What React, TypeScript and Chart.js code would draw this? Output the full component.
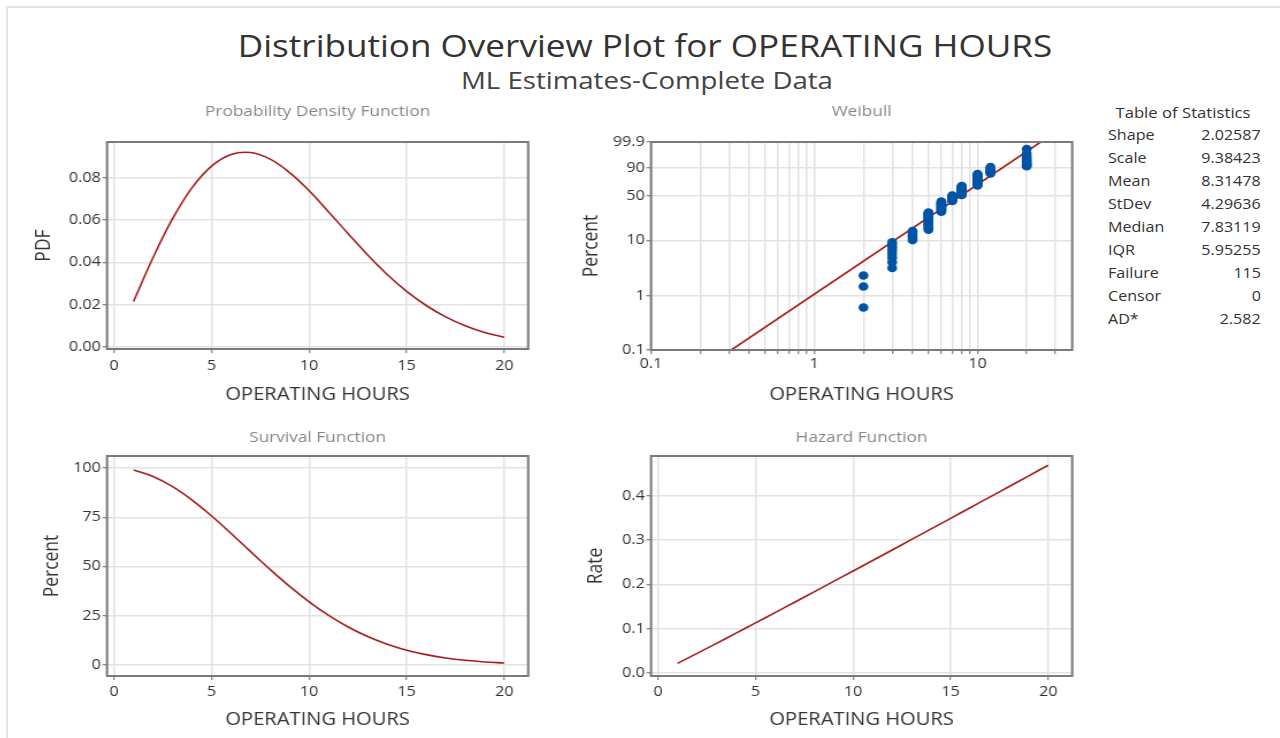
import React, { useEffect, useRef } from 'react';
import { Chart, registerables, LinearScale } from 'chart.js';

Chart.register(...registerables);

const FONT = "'Open Sans', 'Noto Sans', sans-serif";

// ---------- data ----------
const HOURS = [1, 2, 3, 4, 5, 6, 7, 8, 9, 10, 11, 12, 13, 14, 15, 16, 17, 18, 19, 20];
const PDF_VALUES = [0.0215, 0.0423, 0.0607, 0.0754, 0.0856, 0.0911, 0.092, 0.0889, 0.0825, 0.0739, 0.0639, 0.0536, 0.0435, 0.0343, 0.0263, 0.0196, 0.0142, 0.01, 0.0068, 0.0046];
const SURVIVAL_PERCENT = [98.93, 95.73, 90.55, 83.72, 75.63, 66.76, 57.57, 48.49, 39.9, 32.06, 25.17, 19.29, 14.43, 10.55, 7.53, 5.25, 3.57, 2.37, 1.54, 0.97];
const HAZARD_RATE = [0.0217, 0.0442, 0.067, 0.09, 0.1132, 0.1364, 0.1598, 0.1833, 0.2068, 0.2304, 0.2541, 0.2778, 0.3016, 0.3254, 0.3493, 0.3732, 0.3971, 0.4211, 0.4451, 0.4692];

const HOUR_TICKS = [0, 5, 10, 15, 20];
const PDF_TICKS = [0, 0.02, 0.04, 0.06, 0.08];
const SURVIVAL_TICKS = [0, 25, 50, 75, 100];
const HAZARD_TICKS = [0, 0.1, 0.2, 0.3, 0.4];

const FAILURE_HOURS = [2, 3, 4, 5, 6, 7, 8, 10, 12, 20];
const FAILURE_COUNTS = [3, 8, 6, 17, 15, 10, 17, 20, 9, 10];
const FIT_HOURS = [0.3102, 24.36];
const FIT_PERCENT = [0.1, 99.9];
const PERCENT_TICKS = [0.1, 1, 10, 50, 90, 99.9];
const LOG_LABELS = [0.1, 1, 10];
const LOG_GRID = [0.1, 0.2, 0.3, 0.4, 0.5, 0.6, 0.7, 0.8, 0.9, 1, 2, 3, 4, 5, 6, 7, 8, 9, 10, 20, 30];

const STAT_NAMES = ['Shape', 'Scale', 'Mean', 'StDev', 'Median', 'IQR', 'Failure', 'Censor', 'AD*'];
const STAT_VALUES = ['2.02587', '9.38423', '8.31478', '4.29636', '7.83119', '5.95255', '115', '0', '2.582'];

// ---------- Weibull probability scale ----------
const weibullT = (p: number) => Math.log(-Math.log(1 - p / 100));

class WeibullPercentScale extends LinearScale {
  static id = 'weibullPercent';
  static defaults = {};
  buildTicks() {
    return PERCENT_TICKS.map((v) => ({ value: v }));
  }
  getPixelForValue(value: number) {
    const lo = weibullT((this as any).min);
    const hi = weibullT((this as any).max);
    return (this as any).getPixelForDecimal((weibullT(value) - lo) / (hi - lo));
  }
  getValueForPixel(pixel: number) {
    const lo = weibullT((this as any).min);
    const hi = weibullT((this as any).max);
    const w = lo + (this as any).getDecimalForPixel(pixel) * (hi - lo);
    return 100 * (1 - Math.exp(-Math.exp(w)));
  }
}
Chart.register(WeibullPercentScale as any);

// median-rank plotting positions from the failure counts
const N_FAIL = FAILURE_COUNTS.reduce((a, b) => a + b, 0);
const FAILURE_POINTS: { x: number; y: number }[] = [];
{
  let rank = 0;
  FAILURE_HOURS.forEach((h, k) => {
    for (let j = 0; j < FAILURE_COUNTS[k]; j++) {
      rank += 1;
      FAILURE_POINTS.push({ x: h, y: ((rank - 0.3) / (N_FAIL + 0.4)) * 100 });
    }
  });
}

// ---------- layout helpers ----------
const STRETCH = 1.15; // the reference is drawn wider than tall
const Y_AXIS_W = 87; // page px
const RIGHT_PAD = 12; // page px
const TITLE_SIZE = 15;
const TICK_SIZE = 14;
const AXIS_TITLE_SIZE = 17.5;
const LINE_COLOR = '#a51d1d';
const POINT_COLOR = '#0054a6';

type Geo = { L: number; T: number; R: number; B: number; titleY: number; tickY: number; xTitleY: number; yTitleX: number };

function geometry(g: Geo) {
  const left = g.L - Y_AXIS_W;
  const top = g.titleY - 14;
  const pageWidth = g.R - left + RIGHT_PAD;
  const cw = Math.round(pageWidth / STRETCH);
  const yAxisW = Y_AXIS_W / STRETCH;
  const rightPad = cw - yAxisW - (g.R - g.L) / STRETCH;
  const xAxisH = g.xTitleY + 14 - g.B;
  const height = g.B - top + xAxisH;
  const tLH = TITLE_SIZE * 1.2;
  const titlePadTop = g.titleY - top - tLH / 2;
  const titlePadBottom = g.T - top - titlePadTop - tLH;
  const aLH = AXIS_TITLE_SIZE * 1.2;
  const xTitlePadBottom = 14 - aLH / 2;
  const yTitlePadTop = (g.yTitleX - left) / STRETCH - aLH / 2;
  const tickPadX = g.tickY - g.B - 4 - (TICK_SIZE * 1.2) / 2;
  return {
    left,
    top,
    cw,
    styleWidth: cw * STRETCH,
    height,
    yAxisW,
    rightPad,
    xAxisH,
    titlePadTop,
    titlePadBottom,
    xTitlePadBottom,
    yTitlePadTop,
    tickPadX,
  };
}

const frameBox = {
  id: 'frameBox',
  afterDraw(chart: any) {
    const { ctx, chartArea: a } = chart;
    ctx.save();
    ctx.strokeStyle = '#7a7a7a';
    ctx.lineWidth = 2;
    ctx.strokeRect(a.left, a.top, a.right - a.left, a.bottom - a.top);
    ctx.restore();
  },
};

const gridOpts = { color: '#e2e2e2', lineWidth: 1.5, tickColor: '#666', tickLength: 4, tickWidth: 1, drawTicks: true };
const tickFont = { family: FONT, size: TICK_SIZE };
const axisTitleFont = { family: FONT, size: AXIS_TITLE_SIZE };

function makeOptions(geo: any, title: string, xScale: any, yScale: any, yTitle: string) {
  return {
    responsive: false,
    maintainAspectRatio: false,
    animation: false,
    events: [],
    layout: { autoPadding: false, padding: { left: 0, right: geo.rightPad, top: 0, bottom: 0 } },
    plugins: {
      legend: { display: false },
      tooltip: { enabled: false },
      title: {
        display: true,
        text: title,
        fullSize: false,
        color: '#868686',
        font: { family: FONT, size: TITLE_SIZE, weight: 'normal' },
        padding: { top: geo.titlePadTop, bottom: geo.titlePadBottom },
      },
    },
    scales: {
      x: {
        ...xScale,
        grid: gridOpts,
        border: { display: false },
        afterFit: (s: any) => {
          s.height = geo.xAxisH;
        },
        ticks: { ...xScale.ticks, autoSkip: false, maxRotation: 0, padding: geo.tickPadX, color: '#333', font: tickFont },
        title: { display: true, text: 'OPERATING HOURS', color: '#333', font: axisTitleFont, padding: { top: 0, bottom: geo.xTitlePadBottom } },
      },
      y: {
        ...yScale,
        grid: gridOpts,
        border: { display: false },
        afterFit: (s: any) => {
          s.width = geo.yAxisW;
        },
        ticks: { ...yScale.ticks, autoSkip: false, padding: 1.5, color: '#333', font: tickFont },
        title: { display: true, text: yTitle, color: '#333', font: axisTitleFont, padding: { top: geo.yTitlePadTop, bottom: 0 } },
      },
    },
  };
}

const hourScale = {
  type: 'linear',
  min: -0.36,
  max: 21.23,
  afterBuildTicks: (s: any) => {
    s.ticks = HOUR_TICKS.map((v) => ({ value: v }));
  },
  ticks: { callback: (v: number) => String(v) },
};

function linearY(min: number, max: number, ticks: number[], digits: number) {
  return {
    type: 'linear',
    min,
    max,
    afterBuildTicks: (s: any) => {
      s.ticks = ticks.map((v) => ({ value: v }));
    },
    ticks: { callback: (v: number) => Number(v).toFixed(digits) },
  };
}

function curveDataset(values: number[]) {
  return {
    data: HOURS.map((h, i) => ({ x: h, y: values[i] })),
    borderColor: LINE_COLOR,
    borderWidth: 1.6,
    pointRadius: 0,
    fill: false,
    tension: 0.4,
  };
}

const PANELS: { key: string; geo: Geo; build: (geo: any) => any }[] = [
  {
    key: 'pdf',
    geo: { L: 107, T: 142, R: 528, B: 349, titleY: 112, tickY: 366, xTitleY: 395, yTitleX: 44 },
    build: (geo) => ({
      type: 'line',
      data: { datasets: [curveDataset(PDF_VALUES)] },
      options: makeOptions(geo, 'Probability Density Function', hourScale, linearY(-0.001, 0.097, PDF_TICKS, 2), 'PDF'),
      plugins: [frameBox],
    }),
  },
  {
    key: 'weibull',
    geo: { L: 651, T: 142, R: 1072, B: 350, titleY: 112, tickY: 364, xTitleY: 395, yTitleX: 592 },
    build: (geo) => ({
      type: 'scatter',
      data: {
        datasets: [
          {
            data: FAILURE_POINTS,
            pointRadius: 4.3,
            pointBackgroundColor: POINT_COLOR,
            pointBorderWidth: 0,
            showLine: false,
          },
          {
            data: FIT_HOURS.map((h, i) => ({ x: h, y: FIT_PERCENT[i] })),
            showLine: true,
            borderColor: LINE_COLOR,
            borderWidth: 1.6,
            pointRadius: 0,
          },
        ],
      },
      options: makeOptions(
        geo,
        'Weibull',
        {
          type: 'logarithmic',
          min: 0.1,
          max: 38,
          afterBuildTicks: (s: any) => {
            s.ticks = LOG_GRID.map((v) => ({ value: v }));
          },
          ticks: {
            callback: (v: number) => (LOG_LABELS.some((l) => Math.abs(l - v) < 1e-9) ? String(v) : ''),
          },
        },
        {
          type: 'weibullPercent',
          min: 0.1,
          max: 99.9,
          bounds: 'data',
          ticks: { callback: (v: number) => String(v) },
        },
        'Percent'
      ),
      plugins: [frameBox],
    }),
  },
  {
    key: 'survival',
    geo: { L: 107, T: 456, R: 528, B: 676, titleY: 438, tickY: 692, xTitleY: 720, yTitleX: 52 },
    build: (geo) => ({
      type: 'line',
      data: { datasets: [curveDataset(SURVIVAL_PERCENT)] },
      options: makeOptions(geo, 'Survival Function', hourScale, linearY(-5.6, 106.1, SURVIVAL_TICKS, 0), 'Percent'),
      plugins: [frameBox],
    }),
  },
  {
    key: 'hazard',
    geo: { L: 651, T: 456, R: 1072, B: 676, titleY: 438, tickY: 692, xTitleY: 720, yTitleX: 596 },
    build: (geo) => ({
      type: 'line',
      data: { datasets: [curveDataset(HAZARD_RATE)] },
      options: makeOptions(geo, 'Hazard Function', hourScale, linearY(-0.0068, 0.49, HAZARD_TICKS, 1), 'Rate'),
      plugins: [frameBox],
    }),
  },
];

function Panel({ geo, build }: { geo: Geo; build: (g: any) => any }) {
  const ref = useRef<HTMLCanvasElement | null>(null);
  const g = geometry(geo);
  useEffect(() => {
    if (!ref.current) return;
    const chart = new Chart(ref.current, build(g));
    return () => chart.destroy();
  }, []);
  return (
    <canvas
      ref={ref}
      width={g.cw}
      height={g.height}
      style={{ position: 'absolute', left: g.left, top: g.top, width: g.styleWidth, height: g.height }}
    />
  );
}

const stretchLeft = { display: 'inline-block', transform: `scaleX(${STRETCH})`, transformOrigin: 'left center' };
const stretchRight = { display: 'inline-block', transform: `scaleX(${STRETCH})`, transformOrigin: 'right center' };

export default function App() {
  return (
    <div
      style={{
        position: 'absolute',
        left: 0,
        top: 0,
        width: 1280,
        height: 738,
        background: '#fff',
        overflow: 'hidden',
        fontFamily: FONT,
        color: '#333',
      }}
    >
      <div
        style={{
          position: 'absolute',
          left: 6,
          top: 6,
          width: 1300,
          height: 760,
          borderLeft: '2px solid #e3e3e3',
          borderTop: '2px solid #e3e3e3',
        }}
      />
      <div
        style={{
          position: 'absolute',
          left: 0,
          width: 1290,
          top: 25,
          lineHeight: '40px',
          fontSize: 30.5,
          textAlign: 'center',
          color: '#333',
          whiteSpace: 'nowrap',
          transform: `scaleX(${STRETCH})`,
          transformOrigin: '645px 50%',
        }}
      >
        Distribution Overview Plot for OPERATING HOURS
      </div>
      <div
        style={{
          position: 'absolute',
          left: 0,
          width: 1294,
          top: 65,
          lineHeight: '30px',
          fontSize: 24,
          textAlign: 'center',
          color: '#444',
          whiteSpace: 'nowrap',
          transform: `scaleX(${STRETCH})`,
          transformOrigin: '647px 50%',
        }}
      >
        ML Estimates-Complete Data
      </div>
      {PANELS.map((p) => (
        <Panel key={p.key} geo={p.geo} build={p.build} />
      ))}
      <div
        style={{
          position: 'absolute',
          left: 1100,
          width: 166,
          top: 103,
          lineHeight: '20px',
          fontSize: 14.5,
          textAlign: 'center',
          color: '#333',
          whiteSpace: 'nowrap',
          transform: `scaleX(${STRETCH})`,
          transformOrigin: '83px 50%',
        }}
      >
        Table of Statistics
      </div>
      {STAT_NAMES.map((name, i) => (
        <div
          key={name}
          style={{
            position: 'absolute',
            left: 1108,
            width: 153,
            top: 125 + 23 * i,
            lineHeight: '20px',
            fontSize: 14,
            display: 'flex',
            justifyContent: 'space-between',
            color: '#333',
            whiteSpace: 'nowrap',
          }}
        >
          <span style={stretchLeft}>{name}</span>
          <span style={stretchRight}>{STAT_VALUES[i]}</span>
        </div>
      ))}
    </div>
  );
}
